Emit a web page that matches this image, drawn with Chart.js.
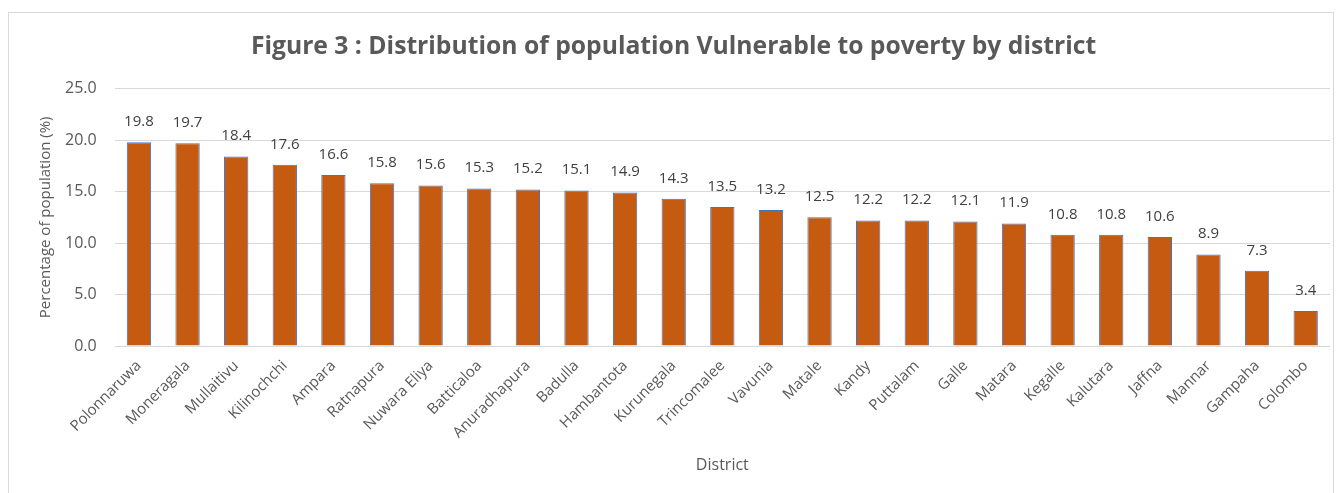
<!DOCTYPE html>
<html>
<head>
<meta charset="utf-8">
<script src="https://cdn.jsdelivr.net/npm/chart.js@4"></script>
<style>
  html, body { margin: 0; padding: 0; background: #fff; }
  #frame {
    position: absolute; left: 8px; top: 12px; width: 1326px; height: 490px;
    border: 1px solid #d9d9d9; box-sizing: border-box;
  }
  #wrap { position: absolute; left: 0; top: 0; width: 1339px; height: 493px; }
</style>
</head>
<body>
<div id="frame"></div>
<div id="wrap"><canvas id="chart"></canvas></div>
<script>
// --- Data ---
const districts = ['Polonnaruwa', 'Moneragala', 'Mullaitivu', 'Kilinochchi', 'Ampara', 'Ratnapura',
    'Nuwara Eliya', 'Batticaloa', 'Anuradhapura', 'Badulla', 'Hambantota', 'Kurunegala',
    'Trincomalee', 'Vavunia', 'Matale', 'Kandy', 'Puttalam', 'Galle', 'Matara', 'Kegalle',
    'Kalutara', 'Jaffna', 'Mannar', 'Gampaha', 'Colombo'];
const vulnerable = [19.8, 19.7, 18.4, 17.6, 16.6, 15.8, 15.6, 15.3, 15.2, 15.1, 14.9, 14.3,
    13.5, 13.2, 12.5, 12.2, 12.2, 12.1, 11.9, 10.8, 10.8, 10.6, 8.9, 7.3, 3.4];
const yTicks = [0, 5, 10, 15, 20, 25];

const FONT = "'Open Sans', 'Noto Sans', sans-serif";
const GREY = '#595959';

// draws the value above each bar
const valueLabels = {
    id: 'valueLabels',
    afterDatasetsDraw(chart) {
        const { ctx } = chart;
        const meta = chart.getDatasetMeta(0);
        ctx.save();
        ctx.font = `15px ${FONT}`;
        ctx.fillStyle = '#404040';
        ctx.textAlign = 'center';
        ctx.textBaseline = 'bottom';
        meta.data.forEach((bar, i) => {
            ctx.fillText(vulnerable[i].toFixed(1), bar.x, bar.y - 13);
        });
        ctx.restore();
    }
};

new Chart(document.getElementById('chart'), {
    type: 'bar',
    data: {
        labels: districts,
        datasets: [{
            label: 'Vulnerable to poverty',
            data: vulnerable,
            backgroundColor: '#C55A11',
            borderColor: '#4472C4',
            borderWidth: 1,
            categoryPercentage: 1,
            barPercentage: 0.5
        }]
    },
    options: {
        responsive: true,
        maintainAspectRatio: false,
        animation: false,
        layout: { padding: { left: 17, right: 9, top: 8, bottom: 14 } },
        plugins: {
            legend: { display: false },
            tooltip: { enabled: false },
            title: {
                display: true,
                text: 'Figure 3 : Distribution of population Vulnerable to poverty by district',
                color: GREY,
                font: { family: FONT, size: 24.7, weight: 'bold' },
                padding: { top: 24, bottom: 27 }
            }
        },
        scales: {
            x: {
                grid: { display: false },
                border: { display: false },
                ticks: {
                    color: GREY,
                    font: { family: FONT, size: 15 },
                    maxRotation: 45,
                    minRotation: 45,
                    autoSkip: false
                },
                title: {
                    display: true,
                    text: 'District',
                    color: GREY,
                    font: { family: FONT, size: 16 },
                    padding: { top: 11 }
                }
            },
            y: {
                min: 0,
                max: 25,
                afterBuildTicks: axis => { axis.ticks = yTicks.map(v => ({ value: v })); },
                grid: { color: '#d9d9d9', drawTicks: false },
                border: { display: false },
                ticks: {
                    color: GREY,
                    padding: 18,
                    font: { family: FONT, size: 16 },
                    callback: v => Number(v).toFixed(1)
                },
                title: {
                    display: true,
                    text: 'Percentage of population (%)',
                    color: GREY,
                    font: { family: FONT, size: 15 },
                    padding: { top: 20, bottom: -8 }
                }
            }
        }
    },
    plugins: [valueLabels]
});
</script>
</body>
</html>
